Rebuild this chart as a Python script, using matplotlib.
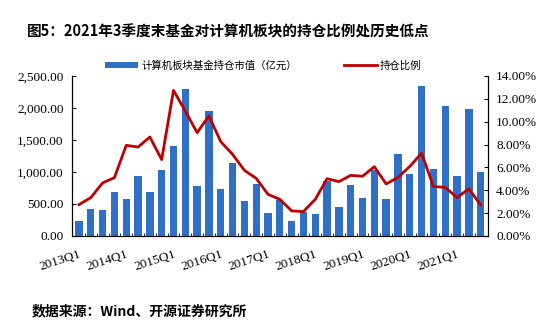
import matplotlib
matplotlib.use('Agg')
import matplotlib.pyplot as plt
from matplotlib.patches import Patch
from matplotlib.lines import Line2D
from matplotlib.ticker import FuncFormatter, MultipleLocator, FixedLocator

# numbers in a serif face, Chinese text gets its own family below
plt.rcParams['font.family'] = 'Liberation Serif'

# quarterly data, 2013Q1 - 2021Q3
quarters = [f'{y}Q{q}' for y in range(2013, 2022) for q in range(1, 5)][:35]
holding_value = [235, 428, 402, 684, 580, 940, 684, 1024, 1400,
                 2290, 783, 1952, 741, 1138, 548, 814, 360, 558,
                 235, 376, 339, 861, 459, 799, 590, 1034, 574,
                 1280, 969, 2344, 1042, 2037, 938, 1990, 995]
holding_ratio = [2.74, 3.35, 4.64, 5.10, 7.93, 7.78, 8.66, 6.68, 12.74,
                 10.93, 9.04, 10.50, 8.25, 7.14, 5.74, 5.04, 3.64, 3.20,
                 2.19, 2.13, 3.20, 5.01, 4.75, 5.30, 5.22, 6.06, 4.55,
                 5.12, 6.08, 7.25, 4.33, 4.24, 3.36, 4.12, 2.72]
tick_labels = quarters[::4]

BAR_COLOR = '#2F6FC6'
LINE_COLOR = '#C00000'
CJK = ['Noto Sans CJK SC', 'DejaVu Sans']

fig = plt.figure(figsize=(5.53, 3.29), dpi=100)
ax = fig.add_axes([0.130, 0.283, 0.752, 0.486])
x = list(range(len(quarters)))

ax.bar(x, holding_value, width=0.62, color=BAR_COLOR, zorder=2)
ax.set_ylim(0, 2500)
ax.set_xlim(-0.6, len(quarters) - 0.4)
ax.yaxis.set_major_locator(MultipleLocator(500))
ax.yaxis.set_major_formatter(FuncFormatter(lambda v, p: f'{v:,.2f}'))

ax2 = ax.twinx()
ax2.plot(x, holding_ratio, color=LINE_COLOR, linewidth=2.0, zorder=3)
ax2.set_ylim(0, 14)
ax2.yaxis.set_major_locator(MultipleLocator(2))
ax2.yaxis.set_major_formatter(FuncFormatter(lambda v, p: f'{v:.2f}%'))

for a in (ax, ax2):
    a.spines['top'].set_visible(False)
    for s in a.spines.values():
        s.set_color('black')
        s.set_linewidth(0.8)
    a.tick_params(axis='y', direction='in', length=3, labelsize=9.5, pad=6)

# category labels under every fourth bar, ticks between bars
ax.set_xticks(x[::4])
ax.set_xticklabels(tick_labels, rotation=18, ha='right', fontsize=9.5,
                   rotation_mode='anchor')
ax.tick_params(axis='x', which='major', length=0, pad=9)
ax.xaxis.set_minor_locator(FixedLocator([i + 0.5 for i in x[:-1]]))
ax.tick_params(axis='x', which='minor', direction='in', length=2.5)

handles = [Patch(facecolor=BAR_COLOR, edgecolor='none'),
           Line2D([0], [0], color=LINE_COLOR, linewidth=2.0)]
ax.legend(handles, ['计算机板块基金持仓市值（亿元）', '持仓比例'],
          loc='center', bbox_to_anchor=(0.46, 1.065), ncol=2, frameon=False,
          prop={'family': CJK, 'size': 7.5}, handlelength=3.2,
          handleheight=0.6, handletextpad=0.3, columnspacing=4.5)

fig.text(0.049, 0.905, '图5：2021年3季度末基金对计算机板块的持仓比例处历史低点',
         fontsize=10.5, fontweight='bold', family=CJK, va='center')
fig.text(0.058, 0.055, '数据来源：Wind、开源证券研究所',
         fontsize=10, fontweight='bold', family=CJK, va='center')

fig.savefig('out.png', dpi=100)
